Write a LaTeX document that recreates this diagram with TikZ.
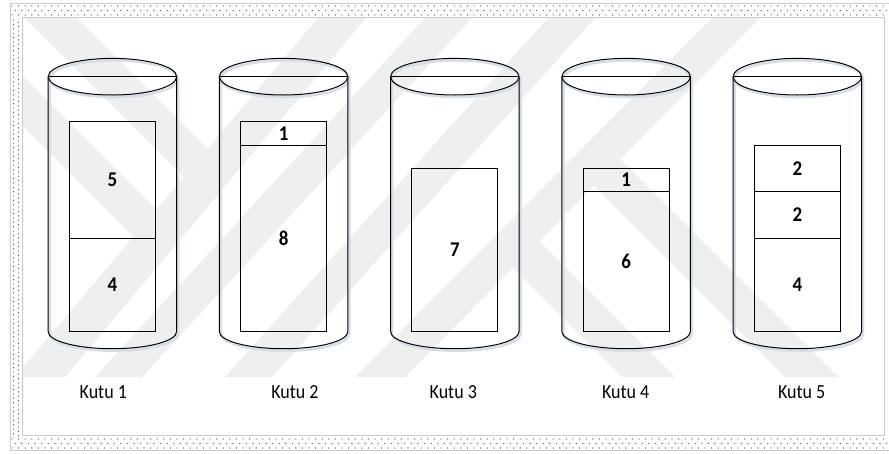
\documentclass[tikz,border=0pt]{standalone}
\usepackage{fontspec}
\setmainfont{Carlito}
\usepackage{graphicx}
\definecolor{wm}{RGB}{239,239,239}
\definecolor{dotc}{RGB}{95,95,95}
\definecolor{shad}{RGB}{214,222,234}
\definecolor{edge}{RGB}{200,205,212}
\newcommand\nx[1]{\scalebox{0.9}[1]{#1}}
\tikzset{
  seg/.style={draw=black, line width=0.9pt, minimum width=86pt, inner sep=0pt, outer sep=0pt,
    anchor=south, font=\fontsize{21}{25}\selectfont\bfseries, text=black},
  cylline/.style={draw=black, line width=1pt},
  cylshadow/.style={draw=shad, line width=2.6pt},
  lbl/.style={font=\fontsize{20}{24}\selectfont, inner sep=0pt, text=black},
  dotmark/.style={fill=dotc},
}
\begin{document}
\begin{tikzpicture}[x=1pt,y=-1pt]
\useasboundingbox (0,0) rectangle (889,453);
\fill[white] (0,0) rectangle (889,453);

% watermark
\begin{scope}
  \clip (22,18) rectangle (884,377);
  \fill[wm] (318,18) -- (366,18) -- (65,377) -- (15,377) -- cycle;
  \fill[wm] (425,18) -- (472,18) -- (142,377) -- (95,377) -- cycle;
  \fill[wm] (548,18) -- (595,18) -- (272,377) -- (225,377) -- cycle;
  \fill[wm] (712,18) -- (760,18) -- (405,377) -- (355,377) -- cycle;
  \fill[wm] (25,18) -- (77,18) -- (220.7,161.7) -- (196.9,189.9) -- cycle;
  \fill[wm] (22,75) -- (169.4,222.4) -- (146.6,249.6) -- (22,125) -- cycle;
  \fill[wm] (500.5,255.5) -- (526.9,228.9) -- (675,377) -- (622,377) -- cycle;
  \fill[wm] (581.6,173.6) -- (608,147) -- (838,377) -- (785,377) -- cycle;
\end{scope}

% dotted frame
\foreach \i in {0,...,134}{
  \fill[dotmark] (12+\i*6.6,6) circle[radius=0.7pt];
  \fill[dotmark] (15.3+\i*6.6,10.5) circle[radius=0.7pt];
  \fill[dotmark] (12+\i*6.6,15) circle[radius=0.7pt];
  \fill[dotmark] (12+\i*6.6,439) circle[radius=0.7pt];
  \fill[dotmark] (15.3+\i*6.6,443.5) circle[radius=0.7pt];
  \fill[dotmark] (12+\i*6.6,448) circle[radius=0.7pt];
}
\foreach \j in {0,...,94}{
  \fill[dotmark] (13.5,20+\j*4.4) circle[radius=0.7pt];
  \fill[dotmark] (18.5,22.2+\j*4.4) circle[radius=0.7pt];
}
\draw[edge, line width=0.6pt] (889,3) -- (10,3) -- (10,450) -- (889,450);
\draw[edge, line width=0.6pt] (22,17) rectangle (884,435);

% cylinders
\foreach \cx in {112.4,283.6,454.8,626.1,797.3}{
  \begin{scope}[shift={(1.5,2)}]
    \draw[cylshadow] (\cx-64.2,76.7) -- (\cx-64.2,331.7)
      arc[start angle=180, end angle=360, x radius=64.2pt, y radius=17pt] -- (\cx+64.2,76.7);
    \draw[cylshadow] (\cx,76.7) ellipse[x radius=64.2pt, y radius=18.3pt];
  \end{scope}
  \draw[cylline] (\cx-64.2,76.7) -- (\cx-64.2,331.7)
    arc[start angle=180, end angle=360, x radius=64.2pt, y radius=17pt] -- (\cx+64.2,76.7);
  \draw[cylline] (\cx,76.7) ellipse[x radius=64.2pt, y radius=18.3pt];
  \draw[cylline] (\cx-64.2,76.7) -- (\cx+64.2,76.7);
}

% Kutu 1
\node[seg, minimum height=93.33pt] (k1a) at (112.4,331.7) {\nx{4}};
\node[seg, minimum height=116.67pt] (k1b) at (k1a.north) {\nx{5}};
% Kutu 2
\node[seg, minimum height=186.67pt] (k2a) at (283.6,331.7) {\nx{8}};
\node[seg, minimum height=23.33pt] (k2b) at (k2a.north) {\nx{1}};
% Kutu 3
\node[seg, minimum height=163.33pt] (k3a) at (454.8,331.7) {\nx{7}};
% Kutu 4
\node[seg, minimum height=140pt] (k4a) at (626.1,331.7) {\nx{6}};
\node[seg, minimum height=23.33pt] (k4b) at (k4a.north) {\nx{1}};
% Kutu 5
\node[seg, minimum height=93.33pt] (k5a) at (797.3,331.7) {\nx{4}};
\node[seg, minimum height=46.67pt] (k5b) at (k5a.north) {\nx{2}};
\node[seg, minimum height=46.67pt] (k5c) at (k5b.north) {\nx{2}};

% labels
\node[lbl] (l1) at (103.3,391.7) {\nx{Kutu 1}};
\node[lbl] (l2) at (295,391.7) {\nx{Kutu 2}};
\node[lbl] (l3) at (453.3,391.7) {\nx{Kutu 3}};
\node[lbl] (l4) at (625.7,391.7) {\nx{Kutu 4}};
\node[lbl] (l5) at (801.7,391.7) {\nx{Kutu 5}};
\end{tikzpicture}
\end{document}
